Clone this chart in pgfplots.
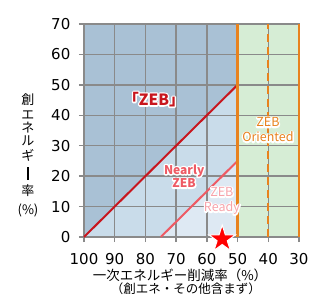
\documentclass[border=0pt]{standalone}
\usepackage{fontspec}
\setmainfont{Noto Sans CJK JP}
\newfontfamily\tickfont{DejaVu Sans}
\usepackage{pgfplots}
\pgfplotsset{compat=1.18}
\definecolor{darkblue}{HTML}{A9C1D5}
\definecolor{midblue}{HTML}{C9DCEA}
\definecolor{lightblue}{HTML}{DEE9F3}
\definecolor{lightgreen}{HTML}{D6EDD5}
\definecolor{orangeL}{HTML}{E8821E}
\definecolor{gridgray}{HTML}{8A8A8A}
\definecolor{zebred}{HTML}{C8161E}
\definecolor{nearlypink}{HTML}{EE5A64}
\definecolor{readypink}{HTML}{F7A3AA}
\pgfdeclareplotmark{fstar}{%
  \pgfpathmoveto{\pgfpointpolar{90}{\pgfplotmarksize}}%
  \pgfpathlineto{\pgfpointpolar{126}{0.382\pgfplotmarksize}}%
  \pgfpathlineto{\pgfpointpolar{162}{\pgfplotmarksize}}%
  \pgfpathlineto{\pgfpointpolar{198}{0.382\pgfplotmarksize}}%
  \pgfpathlineto{\pgfpointpolar{234}{\pgfplotmarksize}}%
  \pgfpathlineto{\pgfpointpolar{270}{0.382\pgfplotmarksize}}%
  \pgfpathlineto{\pgfpointpolar{306}{\pgfplotmarksize}}%
  \pgfpathlineto{\pgfpointpolar{342}{0.382\pgfplotmarksize}}%
  \pgfpathlineto{\pgfpointpolar{18}{\pgfplotmarksize}}%
  \pgfpathlineto{\pgfpointpolar{54}{0.382\pgfplotmarksize}}%
  \pgfpathclose\pgfusepathqfillstroke}
% text with a white halo: a stroked white copy underneath, then the text
\newcommand\halo[3]{%
  \begin{scope}
  \node[#1, text=white] at (#2) {\special{pdf:literal direct 1 Tr 2.8 w 1 j 1 J}#3\special{pdf:literal direct 0 Tr}};
  \end{scope}
  \node[#1] at (#2) {#3};}
\begin{document}
\begin{tikzpicture}
\begin{axis}[
  at={(0pt,0pt)}, anchor=south west,
  scale only axis, width=215pt, height=213pt,
  x dir=reverse, xmin=30, xmax=100, ymin=0, ymax=70,
  xtick={30,40,...,100}, ytick={0,10,...,70},
  xtick pos=bottom, ytick pos=left,
  grid=major, grid style={gridgray, line width=1.3pt},
  axis line style={gridgray, line width=1.3pt},
  tick style={gridgray, line width=1.3pt},
  tick align=outside, major tick length=5pt,
  ticklabel style={font=\tickfont\fontsize{15}{15}\selectfont, inner sep=0.5pt},
  xticklabel style={yshift=-10.5pt},
  yticklabel style={xshift=-8pt},
  /pgf/number format/assume math mode=true,
  clip=false, set layers,
]
\addplot[fill=darkblue, draw=none, on layer=axis background] coordinates {(100,0) (100,70) (50,70) (50,50)} \closedcycle;
\addplot[fill=midblue, draw=none, on layer=axis background] coordinates {(100,0) (50,50) (50,25) (75,0)} \closedcycle;
\addplot[fill=lightblue, draw=none, on layer=axis background] coordinates {(75,0) (50,25) (50,0)} \closedcycle;
\addplot[fill=lightgreen, draw=none, on layer=axis background] coordinates {(50,0) (50,70) (30,70) (30,0)} \closedcycle;
\addplot[zebred, line width=2pt] coordinates {(100,0) (50,50)};
\addplot[nearlypink, line width=2pt] coordinates {(75,0) (50,25)};
\addplot[orangeL, line width=2.2pt] coordinates {(50,0) (50,70)};
\addplot[orangeL, line width=2.2pt] coordinates {(30,0) (30,70)};
\addplot[orangeL, line width=2.2pt, dash pattern=on 8pt off 5pt] coordinates {(40,0) (40,70)};
\addplot[only marks, mark=fstar, mark size=14pt, mark options={fill=red, draw=white, line width=1pt}] coordinates {(55,-0.7)};
\coordinate (zeb) at (axis cs:77.2,45.2);
\coordinate (nearly) at (axis cs:67.4,20);
\coordinate (ready) at (axis cs:55.1,11.8);
\coordinate (orient) at (axis cs:40.1,35.2);
\end{axis}
\halo{font=\fontsize{15.5}{16}\selectfont\bfseries, text=zebred}{zeb}{「ZEB」}
\halo{font=\fontsize{12}{13.5}\selectfont\bfseries, text=nearlypink, align=center}{nearly}{Nearly\\ZEB}
\halo{font=\fontsize{12.5}{15}\selectfont, text=readypink, align=center}{ready}{ZEB\\Ready}
\halo{font=\fontsize{12.5}{15}\selectfont, text=orangeL, align=center}{orient}{ZEB\\Oriented}
\begin{scope}[every node/.style={font=\fontsize{13}{14}\selectfont, inner sep=0pt}]
\node at (-56pt,137pt) {創};
\node at (-56pt,122pt) {エ};
\node at (-56pt,109pt) {ネ};
\node at (-56pt,96pt) {ル};
\node at (-56pt,82pt) {ギ};
\fill (-56.55pt,57.5pt) rectangle (-55.45pt,70.5pt);
\node at (-56pt,46pt) {率};
\node at (-56pt,27pt) {(\%)};
\end{scope}
\node[font=\fontsize{13.5}{14}\selectfont, inner sep=0.5pt] at (96pt,-38pt) {一次エネルギー削減率（\%）};
\node[font=\fontsize{12.5}{13}\selectfont, inner sep=0.5pt] at (102pt,-52pt) {（創エネ・その他含まず）};
\pgfresetboundingbox
\path[use as bounding box] (-84pt,-58pt) rectangle (235pt,237pt);
\end{tikzpicture}
\end{document}
